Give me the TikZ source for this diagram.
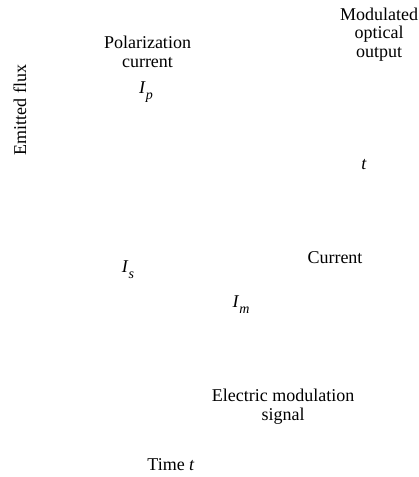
\documentclass[tikz,border=0pt]{standalone}
\usepackage{fontspec}
\setmainfont{Liberation Serif}
\newcommand\isub[2]{\textit{#1}\raisebox{-0.35em}{\fontsize{14}{14}\selectfont\textit{#2}}}
\begin{document}
\begin{tikzpicture}[x=1pt,y=-1pt,
  lbl/.style={inner sep=0pt,align=center,font=\fontsize{18}{18.5}\selectfont}]
\useasboundingbox (0,0) rectangle (419,477);
\node[lbl,rotate=90] (flux) at (20,110) {Emitted flux};
\node[lbl,anchor=base] (pol) at (147.5,67) {Polarization\\current};
\node[lbl,anchor=base] (ip) at (146,93) {\isub{I}{p}};
\node[lbl,anchor=base] (mod) at (379,57) {Modulated\\optical\\output};
\node[lbl,anchor=base] (t1) at (364,169) {\textit{t}};
\node[lbl,anchor=base] (is) at (128,272) {\isub{I}{s}};
\node[lbl,anchor=base] (cur) at (335,263) {Current};
\node[lbl,anchor=base] (im) at (241,307) {\isub{I}{m}};
\node[lbl,anchor=base] (ems) at (283,420) {Electric modulation\\signal};
\node[lbl,anchor=base] (time) at (171,470) {Time \textit{t}};
\end{tikzpicture}
\end{document}
